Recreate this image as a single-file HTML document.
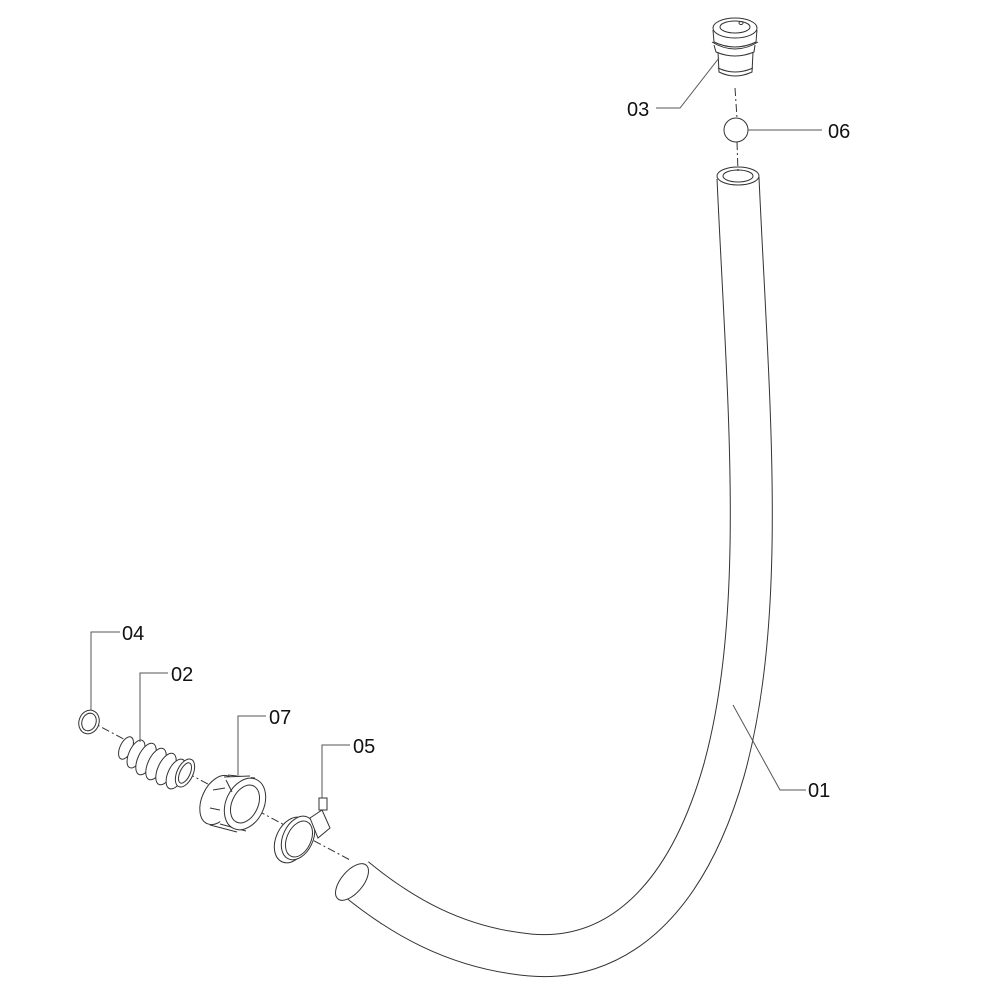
<!DOCTYPE html>
<html><head><style>
html,body{margin:0;padding:0;background:#fff;}
svg{display:block;}
text{font-family:"Liberation Sans",sans-serif;font-size:20px;fill:#111;}
</style></head><body>
<svg width="1000" height="1000" viewBox="0 0 1000 1000">
<g fill="none" stroke="#333" stroke-width="1">
<!-- hose -->
<path d="M738,178 C748,400 768,610 724,770 C684,910 610,962 530,955 C455,948 400,915 355,878" stroke="#333" stroke-width="43" stroke-linecap="butt"/>
<path d="M738,178 C748,400 768,610 724,770 C684,910 610,962 530,955 C455,948 400,915 355,878" stroke="#fff" stroke-width="41" stroke-linecap="butt"/>
<ellipse cx="738" cy="176" rx="21" ry="9" fill="#fff"/>
<ellipse cx="738" cy="176" rx="15" ry="6"/>
<ellipse cx="352" cy="882" rx="11" ry="22" transform="rotate(40 352 882)" fill="#fff"/>
<!-- dash axis lines -->
<path d="M735,88 L737,118 M737,142 L738,172" stroke-dasharray="8,3,2,3"/>
<path d="M88,720 L350,860" stroke-dasharray="8,3,2,3"/>
<!-- 03 -->
<ellipse cx="735" cy="28" rx="22" ry="10" fill="#fff"/>
<ellipse cx="735" cy="27" rx="15" ry="6"/>
<path d="M713,30 L714,42 Q735,52 756,42 L757,30"/>
<path d="M712,42 Q735,56 758,42 M714,45 L716,52 Q735,60 754,52 L755,45"/>
<path d="M718,52 L719,72 Q735,80 752,72 L753,52 M718,68 Q735,76 753,68"/>
<ellipse cx="741" cy="23" rx="2" ry="1.5"/>
<!-- 06 -->
<circle cx="736" cy="130" r="12" fill="#fff"/>
<!-- 04 -->
<ellipse cx="89" cy="722" rx="10" ry="12" transform="rotate(20 89 722)" fill="#fff"/>
<ellipse cx="89" cy="722" rx="7" ry="9" transform="rotate(20 89 722)"/>
<!-- 02 -->
<ellipse cx="126" cy="748" rx="6" ry="12" transform="rotate(25 126 748)" fill="#fff"/>
<ellipse cx="136" cy="754" rx="7" ry="15" transform="rotate(25 136 754)" fill="#fff"/>
<ellipse cx="146" cy="759" rx="8" ry="17" transform="rotate(25 146 759)" fill="#fff"/>
<ellipse cx="156" cy="764" rx="8" ry="17" transform="rotate(25 156 764)" fill="#fff"/>
<ellipse cx="166" cy="769" rx="8" ry="17" transform="rotate(25 166 769)" fill="#fff"/>
<ellipse cx="176" cy="774" rx="8" ry="16" transform="rotate(25 176 774)" fill="#fff"/>
<ellipse cx="185" cy="773" rx="8" ry="15" transform="rotate(25 185 773)" fill="#fff"/>
<ellipse cx="185" cy="773" rx="5" ry="11" transform="rotate(25 185 773)"/>
<!-- 07 -->
<path d="M228,775 L255,778 M210,825 L237,832" />
<ellipse cx="218" cy="800" rx="16" ry="26" transform="rotate(25 218 800)" fill="#fff"/>
<path d="M224,777 L250,776 L262,795 L248,832 L220,824 Z" fill="#fff" stroke="none"/>
<path d="M224,777 L250,776 M220,824 L246,831"/>
<ellipse cx="245" cy="804" rx="19" ry="27" transform="rotate(25 245 804)" fill="#fff"/>
<ellipse cx="245" cy="804" rx="13" ry="20" transform="rotate(25 245 804)"/>
<path d="M213,790 L225,788 M210,808 L220,810 M226,780 L232,792" />
<!-- 05 -->
<ellipse cx="292" cy="840" rx="16" ry="24" transform="rotate(25 292 840)" fill="#fff"/>
<ellipse cx="298" cy="838" rx="15" ry="23" transform="rotate(25 298 838)" fill="#fff"/>
<ellipse cx="299" cy="839" rx="12" ry="19" transform="rotate(25 299 839)"/>
<path d="M310,818 L322,810 L330,828 L318,838 Z" fill="#fff"/>
<rect x="319" y="798" width="8" height="12" fill="#fff"/>
<!-- leaders -->
<g stroke="#555">
<path d="M656,108 L680,108 L719,58"/>
<path d="M748,130 L822,130"/>
<path d="M91,710 L91,632 L120,632"/>
<path d="M140,742 L140,673 L168,673"/>
<path d="M238,775 L238,716 L266,716"/>
<path d="M322,798 L322,745 L350,745"/>
<path d="M733,705 L780,790 L806,790"/>
</g>
</g>
<text x="627" y="116">03</text>
<text x="828" y="138">06</text>
<text x="122" y="640">04</text>
<text x="171" y="681">02</text>
<text x="269" y="724">07</text>
<text x="353" y="753">05</text>
<text x="808" y="797">01</text>
</svg>
</body></html>
